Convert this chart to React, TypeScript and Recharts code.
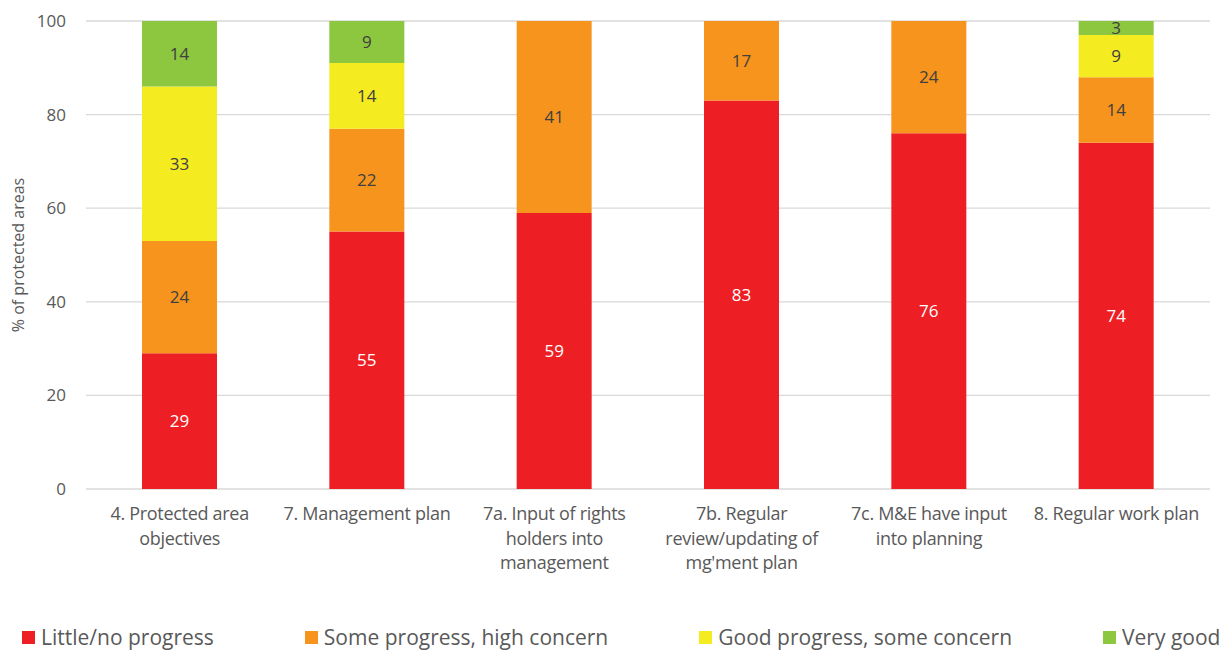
import React from "react";
import { BarChart, Bar, XAxis, YAxis, CartesianGrid, Legend, LabelList } from "recharts";

const categories = [
  "4. Protected area\nobjectives",
  "7. Management plan",
  "7a. Input of rights\nholders into\nmanagement",
  "7b. Regular\nreview/updating of\nmg'ment plan",
  "7c. M&E have input\ninto planning",
  "8. Regular work plan",
];

const littleProgress = [29, 55, 59, 83, 76, 74];
const someProgress = [24, 22, 41, 17, 24, 14];
const goodProgress = [33, 14, 0, 0, 0, 9];
const veryGood = [14, 9, 0, 0, 0, 3];

const yTicks = [0, 20, 40, 60, 80, 100];

const series = [
  { key: "little", name: "Little/no progress", color: "#ED1F24", labelColor: "#FFFFFF" },
  { key: "some", name: "Some progress, high concern", color: "#F7941D", labelColor: "#404040" },
  { key: "good", name: "Good progress, some concern", color: "#F4EB20", labelColor: "#404040" },
  { key: "very", name: "Very good", color: "#8DC63F", labelColor: "#404040" },
];

const data = categories.map((name, i) => ({
  name,
  little: littleProgress[i],
  some: someProgress[i],
  good: goodProgress[i],
  very: veryGood[i],
}));

const FONT = "'Open Sans', sans-serif";

const CategoryTick = (props: any) => {
  const { x, y, payload } = props;
  const lines = String(payload.value).split("\n");
  return (
    <text x={x} y={y + 23} textAnchor="middle" fill="#595959" fontSize={18} fontFamily={FONT} letterSpacing={-0.3}>
      {lines.map((line, i) => (
        <tspan key={i} x={x} dy={i === 0 ? 0 : 24.5}>
          {line}
        </tspan>
      ))}
    </text>
  );
};

const LegendContent = () => (
  <div
    style={{
      display: "flex",
      gap: 91,
      paddingLeft: 22,
      paddingTop: 10,
      fontFamily: FONT,
      fontSize: 21,
      color: "#595959",
    }}
  >
    {series.map((s) => (
      <div key={s.key} style={{ display: "flex", alignItems: "center", whiteSpace: "nowrap" }}>
        <span style={{ width: 13, height: 13, background: s.color, display: "inline-block", marginRight: 6 }} />
        {s.name}
      </div>
    ))}
  </div>
);

const hideZero = (v: any) => (v ? v : "");

export default function App() {
  return (
    <div style={{ position: "absolute", left: 0, top: 0, width: 1223, height: 653, overflow: "hidden", background: "#fff" }}>
      <BarChart
        width={1223}
        height={653}
        data={data}
        margin={{ top: 21, right: 13, left: 0, bottom: 0 }}
        barSize={75}
      >
        <CartesianGrid vertical={false} stroke="#D9D9D9" strokeWidth={1.3} />
        <XAxis
          dataKey="name"
          axisLine={false}
          tickLine={false}
          interval={0}
          height={124}
          tick={<CategoryTick />}
        />
        <YAxis
          domain={[0, 100]}
          ticks={yTicks}
          width={86}
          axisLine={false}
          tickLine={false}
          tickSize={0}
          tickMargin={20}
          tick={{ fill: "#595959", fontSize: 17, fontFamily: FONT }}
          label={{
            value: "% of protected areas",
            angle: -90,
            position: "insideLeft",
            offset: 18,
            style: { textAnchor: "middle", fill: "#595959", fontSize: 16, fontFamily: FONT },
          }}
        />
        <Legend verticalAlign="bottom" align="left" height={40} content={<LegendContent />} />
        {series.map((s) => (
          <Bar key={s.key} dataKey={s.key} name={s.name} stackId="a" fill={s.color} isAnimationActive={false}>
            <LabelList
              dataKey={s.key}
              position="center"
              formatter={hideZero}
              fill={s.labelColor}
              fontSize={17}
              fontFamily={FONT}
            />
          </Bar>
        ))}
      </BarChart>
    </div>
  );
}
